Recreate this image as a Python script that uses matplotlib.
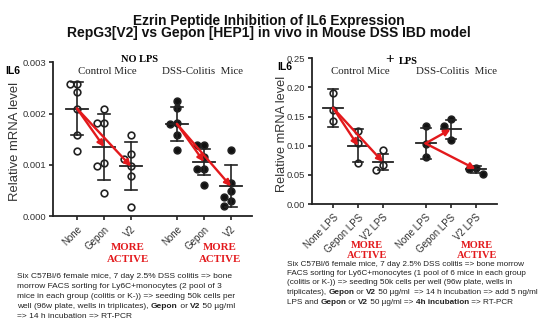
import matplotlib
matplotlib.use("Agg")
import matplotlib.pyplot as plt
import numpy as np

# ---------------- data ----------------
title_lines = ["Ezrin Peptide Inhibition of IL6 Expression",
               "RepG3[V2] vs Gepon [HEP1] in vivo in Mouse DSS IBD model"]

labels_left = ["None", "Gepon", "V2", "None", "Gepon", "V2"]
labels_right = ["None LPS", "Gepon LPS", "V2 LPS", "None LPS", "Gepon LPS", "V2 LPS"]

# NO LPS panel (relative mRNA level)
ctrl_none = [0.00258, 0.00258, 0.00242, 0.00210, 0.00158, 0.00128]
ctrl_gepon = [0.00210, 0.00181, 0.00181, 0.00103, 0.00097, 0.00045]
ctrl_v2 = [0.00158, 0.00121, 0.00112, 0.00097, 0.00079, 0.00017]
dss_none = [0.00225, 0.00211, 0.00181, 0.00180, 0.00158, 0.00129]
dss_gepon = [0.00139, 0.00139, 0.00115, 0.00092, 0.00092, 0.00061]
dss_v2 = [0.00129, 0.00065, 0.00048, 0.00037, 0.00029, 0.00019]
mean_nolps = [0.00210, 0.00135, 0.00097, 0.00180, 0.00106, 0.00058]
sd_nolps = [0.00051, 0.00064, 0.00047, 0.00033, 0.00025, 0.00041]

# + LPS panel
ctrl_none_lps = [0.190, 0.162, 0.143]
ctrl_gepon_lps = [0.125, 0.105, 0.071]
ctrl_v2_lps = [0.093, 0.067, 0.058]
dss_none_lps = [0.134, 0.103, 0.081]
dss_gepon_lps = [0.145, 0.134, 0.109]
dss_v2_lps = [0.061, 0.060, 0.051]
mean_lps = [0.165, 0.100, 0.072, 0.104, 0.128, 0.060]
sd_lps = [0.033, 0.028, 0.014, 0.027, 0.016, 0.006]

yticks_left = [0.000, 0.001, 0.002, 0.003]
yticks_right = [0.00, 0.05, 0.10, 0.15, 0.20, 0.25]

foot_left = [
    [("Six C57Bl/6 female mice, 7 day 2.5% DSS colitis => bone", False)],
    [("morrow FACS sorting for Ly6C+monocytes (2 pool of 3", False)],
    [("mice in each group (colitis or K-)) => seeding 50k cells per", False)],
    [("well (96w plate, wells in triplicates), ", False), ("Gepon", True), (" or ", False),
     ("V2", True), (" 50 \u00b5g/ml", False)],
    [("=> 14 h incubation => RT-PCR", False)],
]
foot_right = [
    [("Six C57Bl/6 female mice, 7 day 2.5% DSS colitis => bone morrow", False)],
    [("FACS sorting for Ly6C+monocytes (1 pool of 6 mice in each group", False)],
    [("(colitis or K-)) => seeding 50k cells per well (96w plate, wells in", False)],
    [("triplicates), ", False), ("Gepon", True), (" or ", False), ("V2", True),
     (" 50 \u00b5g/ml  => 14 h incubation => add 5 ng/ml", False)],
    [("LPS and ", False), ("Gepon", True), (" or ", False), ("V2", True),
     (" 50 \u00b5g/ml => ", False), ("4h incubation", True), (" => RT-PCR", False)],
]

# ---------------- layout ----------------
W, H = 550, 329
fig = plt.figure(figsize=(W / 100, H / 100), dpi=100)
fig.patch.set_facecolor("white")
renderer = fig.canvas.get_renderer()
SANS = "Liberation Sans"
SERIF = "Liberation Serif"
RED = "#e3191c"


def fx(x):
    return x / W


def fy(y):
    return 1 - y / H


def width_of(s, size, bold, family=SANS):
    t = fig.text(0, 0, "|" + s + "|", fontsize=size, family=family,
                 fontweight="bold" if bold else "normal")
    t2 = fig.text(0, 0, "||", fontsize=size, family=family,
                  fontweight="bold" if bold else "normal")
    w = t.get_window_extent(renderer).width - t2.get_window_extent(renderer).width
    t.remove(); t2.remove()
    return w


def fit_size(s, target_px, bold, family=SANS):
    return 10 * target_px / width_of(s, 10, bold, family)


def line_width(segs, size):
    return sum(width_of(s, size, b) for s, b in segs)


def rich_line(x, y, segs, size, color="#222222"):
    cx = x
    for s, b in segs:
        fig.text(fx(cx), fy(y), s, fontsize=size, family=SANS,
                 fontweight="bold" if b else "normal", va="center", ha="left", color=color)
        cx += width_of(s, size, b)


# titles
for line, target, yc in zip(title_lines, [272, 402], [20.5, 33.5]):
    sz = fit_size(line, target, True)
    fig.text(fx(269), fy(yc), line, fontsize=sz, family=SANS, fontweight="bold",
             ha="center", va="center", color="#111111")

xpos = np.array([0, 1, 2, 3.7, 4.7, 5.7])


def swarm(ax, x0, vals):
    # place points side by side when they would overlap (pixel space)
    placed = []
    pts = []
    d_px = 7.0
    for v in sorted(vals, reverse=True):
        xc, ypx = ax.transData.transform((x0, v))
        for k in [0, -1, 1, -2, 2, -3, 3]:
            xpx = xc + k * d_px
            if all((xpx - a) ** 2 + (ypx - b) ** 2 >= (d_px * 0.95) ** 2 for a, b in placed):
                placed.append((xpx, ypx))
                pts.append(ax.transData.inverted().transform((xpx, ypx)))
                break
    return np.array(pts)


def draw_panel(ax, groups, means, sds, filled, ylim, yticks, yfmt, labels, mean_hw, cap_hw, xlim):
    ax.set_xlim(*xlim)
    ax.set_ylim(*ylim)
    for sp in ["top", "right"]:
        ax.spines[sp].set_visible(False)
    for sp in ["left", "bottom"]:
        ax.spines[sp].set_linewidth(1.3)
        ax.spines[sp].set_color("#222222")
    ax.set_yticks(yticks)
    ax.set_yticklabels([yfmt.format(v) for v in yticks], fontsize=6.8, family=SANS, color="#333333")
    ax.set_xticks(xpos)
    ax.set_xticklabels(labels, rotation=45, ha="right", rotation_mode="anchor",
                       fontsize=7, family=SANS, color="#333333")
    ax.tick_params(axis="both", direction="out", length=3, width=1.2, color="#222222", pad=2)
    ax.tick_params(axis="x", pad=3)
    ax.patch.set_alpha(0)
    for i, (x0, vals) in enumerate(zip(xpos, groups)):
        pts = swarm(ax, x0, vals)
        ax.plot(pts[:, 0], pts[:, 1], "o", ms=4.8, mew=1.2, mec="#222222",
                mfc="#111111" if filled[i] else "white", zorder=3, clip_on=False)
        m, s = means[i], sds[i]
        ax.plot([x0 - mean_hw, x0 + mean_hw], [m, m], color="#222222", lw=1.3, zorder=4)
        ax.plot([x0, x0], [m - s, m + s], color="#222222", lw=1.2, zorder=4)
        for yy in (m - s, m + s):
            ax.plot([x0 - cap_hw, x0 + cap_hw], [yy, yy], color="#222222", lw=1.2, zorder=4)
    # red arrows from None mean to Gepon and V2 means in each group
    for base in (0, 3):
        for tgt in (base + 1, base + 2):
            ax.annotate("", xy=(xpos[tgt], means[tgt]), xytext=(xpos[base], means[base]),
                        arrowprops=dict(arrowstyle="-|>", color=RED, lw=1.7,
                                        mutation_scale=9, shrinkA=0, shrinkB=0), zorder=5)


# left panel
axL = fig.add_axes([fx(53), fy(216), (252 - 53) / W, (216 - 62.5) / H])
draw_panel(axL, [ctrl_none, ctrl_gepon, ctrl_v2, dss_none, dss_gepon, dss_v2],
           mean_nolps, sd_nolps, [False, False, False, True, True, True],
           (0, 0.003), yticks_left, "{:.3f}", labels_left, 0.4, 0.22,
           ((53 - 77) / 27, (252 - 77) / 27))

# right panel
axR = fig.add_axes([fx(312), fy(204), (497 - 312) / W, (204 - 58.3) / H])
draw_panel(axR, [ctrl_none_lps, ctrl_gepon_lps, ctrl_v2_lps, dss_none_lps, dss_gepon_lps, dss_v2_lps],
           mean_lps, sd_lps, [False, False, False, True, True, True],
           (0, 0.25), yticks_right, "{:.2f}", labels_right, 0.4, 0.2,
           ((312 - 333) / 25, (497 - 333) / 25))

# y labels and IL6
fig.text(fx(15), fy(141), "Relative mRNA level", rotation=90, fontsize=9.4, family=SANS,
         ha="center", va="center", color="#333333")
fig.text(fx(282), fy(134), "Relative mRNA level", rotation=90, fontsize=9.2, family=SANS,
         ha="center", va="center", color="#333333")
fig.text(fx(13), fy(71), "IL6", fontsize=7.5, family=SANS, fontweight="bold", ha="center", va="center")
fig.text(fx(285), fy(67), "IL6", fontsize=7.5, family=SANS, fontweight="bold", ha="center", va="center")

# panel headers
fig.text(fx(140), fy(59), "NO LPS", fontsize=7.5, family=SERIF, fontweight="bold", ha="center", va="center")
fig.text(fx(390), fy(59), "+", fontsize=11, family=SERIF, fontweight="bold", ha="center", va="center")
fig.text(fx(408), fy(61), "LPS", fontsize=7.5, family=SERIF, fontweight="bold", ha="center", va="center")
for xc, yc, s in [(107, 71, "Control Mice"), (203, 71, "DSS-Colitis  Mice"),
                  (360, 71, "Control Mice"), (457, 71, "DSS-Colitis  Mice")]:
    fig.text(fx(xc), fy(yc), s, fontsize=7.8, family=SERIF, ha="center", va="center", color="#222222")

# MORE ACTIVE
for xc, y1, y2, fs in [(128, 247, 260, 7.8), (220, 247, 260, 7.8),
                       (367, 245.5, 256, 7.5), (477, 245.5, 256, 7.5)]:
    fig.text(fx(xc), fy(y1), "MORE", fontsize=fs, family=SERIF, fontweight="bold", color=RED,
             ha="center", va="center")
    fig.text(fx(xc), fy(y2), "ACTIVE", fontsize=fs, family=SERIF, fontweight="bold", color=RED,
             ha="center", va="center")

# footnotes
fsz = fit_size(foot_left[0][0][0], 213, False)
for segs, yc in zip(foot_left, [276, 286.5, 296.3, 306, 316]):
    rich_line(17, yc, segs, fsz)
fsz2 = fit_size(foot_right[0][0][0], 246, False)
widest = max(line_width(segs, fsz2) for segs in foot_right)
if widest > 252:
    fsz2 *= 252 / widest
for segs, yc in zip(foot_right, [264, 273.5, 283, 292.5, 302]):
    rich_line(287, yc, segs, fsz2)

fig.savefig("out.png", dpi=100, facecolor="white")
